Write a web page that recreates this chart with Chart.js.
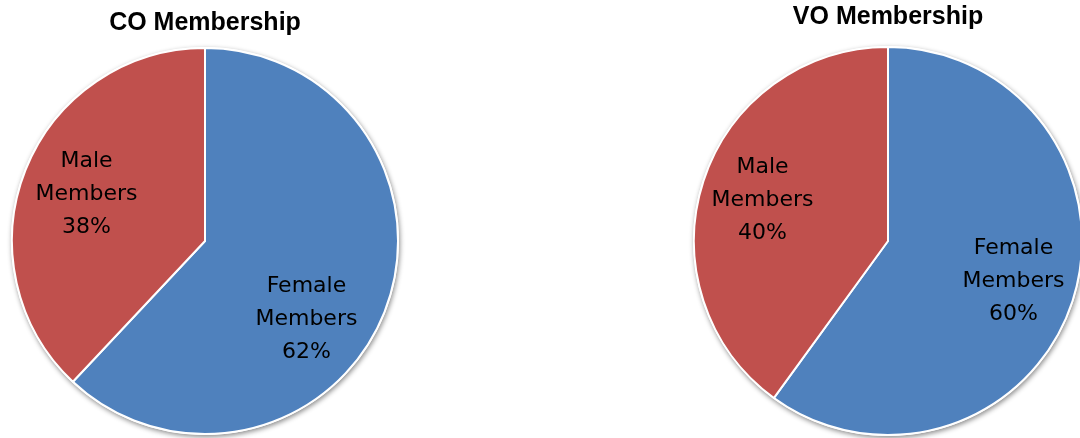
<!DOCTYPE html>
<html lang="en">
<head>
  <meta charset="UTF-8">
  <title>CO / VO Membership</title>
  <script src="https://cdn.jsdelivr.net/npm/chart.js"></script>
</head>
<style>
  body { margin: 0; background: #fff; overflow: hidden; width: 1080px; height: 438px; position: relative; }
  .pie { position: absolute; top: 0; height: 438px; }
  #coBox { left: 0; width: 410px; }
  #voBox { left: 680px; width: 416px; }
</style>
<body>
  <div class="pie" id="coBox"><canvas id="coCanvas" width="410" height="438"></canvas></div>
  <div class="pie" id="voBox"><canvas id="voCanvas" width="416" height="438"></canvas></div>

  <script>
    const categories = ['Female Members', 'Male Members'];
    const coValues = [62, 38];
    const voValues = [60, 40];
    const sliceColors = ['#4F81BD', '#C0504D'];

    // soft shadow under the whole pie, like the office chart
    const pieShadow = {
      id: 'pieShadow',
      beforeDatasetsDraw(chart) {
        const arc = chart.getDatasetMeta(0).data[0];
        if (!arc) return;
        const ctx = chart.ctx;
        ctx.save();
        ctx.shadowColor = 'rgba(0,0,0,0.45)';
        ctx.shadowBlur = 5;
        ctx.shadowOffsetX = 1;
        ctx.shadowOffsetY = 2;
        ctx.fillStyle = '#fff';
        ctx.beginPath();
        ctx.arc(arc.x, arc.y, arc.outerRadius + 1, 0, Math.PI * 2);
        ctx.fill();
        ctx.restore();
      }
    };

    // category + percent written inside each slice
    const sliceLabels = {
      id: 'sliceLabels',
      afterDatasetsDraw(chart, args, opts) {
        const ctx = chart.ctx;
        const meta = chart.getDatasetMeta(0);
        const values = chart.data.datasets[0].data;
        ctx.save();
        ctx.font = '22px "DejaVu Sans"';
        ctx.fillStyle = '#000';
        ctx.textAlign = 'center';
        ctx.textBaseline = 'middle';
        meta.data.forEach((arc, i) => {
          const mid = (arc.startAngle + arc.endAngle) / 2;
          const r = arc.outerRadius * opts.radius;
          const shift = (opts.shift && opts.shift[i]) || [0, 0];
          const x = arc.x + Math.cos(mid) * r + shift[0];
          const y = arc.y + Math.sin(mid) * r + shift[1];
          const lines = chart.data.labels[i].split(' ').concat([values[i] + '%']);
          lines.forEach((t, k) => {
            ctx.fillText(t, x, y + (k - 1) * 33);
          });
        });
        ctx.restore();
      }
    };

    function makePie(id, title, values, titlePad, bottomPad, labelOpts) {
      return new Chart(document.getElementById(id).getContext('2d'), {
        type: 'pie',
        data: {
          labels: categories,
          datasets: [{
            data: values,
            backgroundColor: sliceColors,
            borderColor: '#fff',
            borderWidth: 2
          }]
        },
        options: {
          responsive: false,
          animation: false,
          layout: { padding: { bottom: bottomPad } },
          plugins: {
            legend: { display: false },
            tooltip: { enabled: false },
            title: {
              display: true,
              text: title,
              color: '#000',
              font: { family: '"Liberation Sans"', size: 25, weight: 'bold' },
              padding: titlePad
            },
            sliceLabels: labelOpts
          }
        },
        plugins: [pieShadow, sliceLabels]
      });
    }

    makePie('coCanvas', 'CO Membership', coValues, { top: 8, bottom: 9 }, 3,
      { radius: 0.66, shift: [[-17, 31], [0, 0]] });
    makePie('voCanvas', 'VO Membership', voValues, { top: 2, bottom: 14 }, 2,
      { radius: 0.68, shift: [[0, 0], [0, 0]] });
  </script>
</body>
</html>
